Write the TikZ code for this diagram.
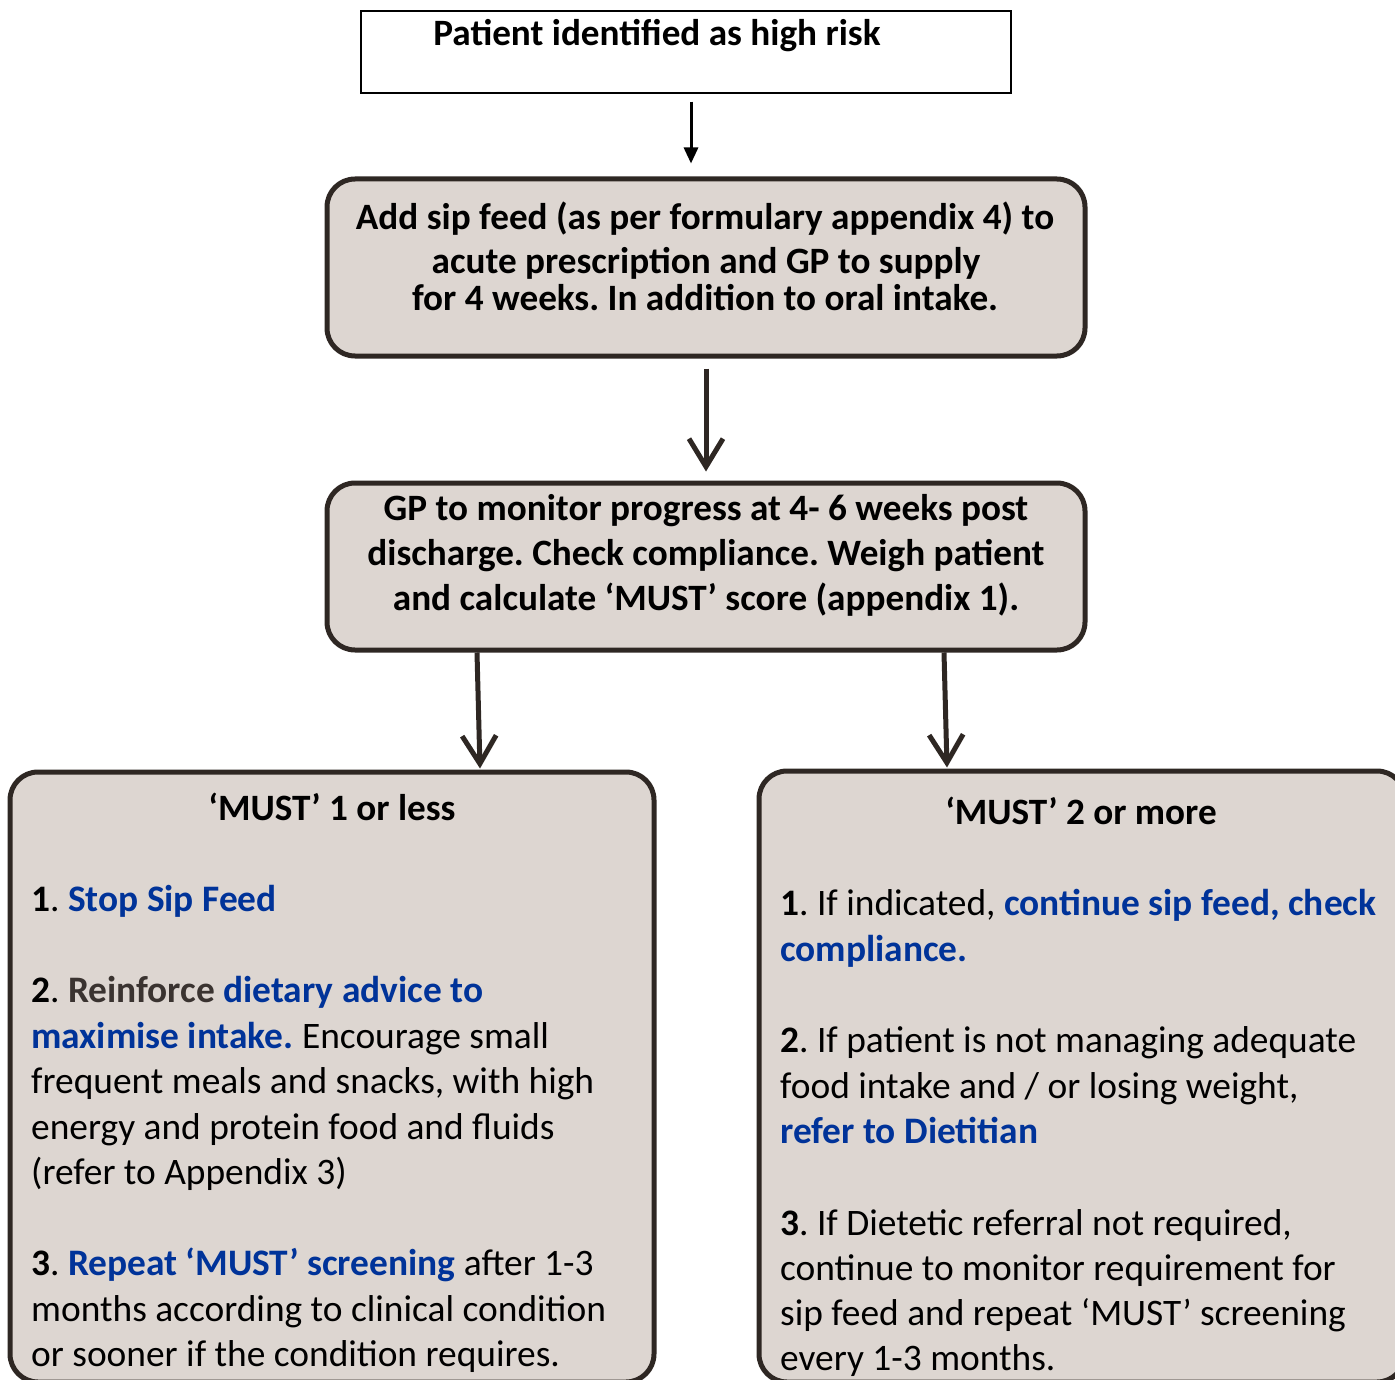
\documentclass[tikz,border=0pt]{standalone}
\usepackage{fontspec}
\setmainfont{Carlito}
\usetikzlibrary{arrows.meta,calc}
\definecolor{boxfill}{HTML}{DDD6D1}
\definecolor{boxline}{HTML}{2E2723}
\definecolor{blueT}{HTML}{003399}
\definecolor{reinT}{HTML}{3A3330}
\newcommand{\bl}[1]{{\color{blueT}\bfseries #1}}
\frenchspacing
\tikzset{
  plainbox/.style={draw=black, line width=1.2pt, fill=white, rectangle, inner sep=0pt},
  roundbox/.style={draw=boxline, line width=5pt, fill=boxfill, rectangle, rounded corners=28pt, inner sep=0pt},
  bodytxt/.style={anchor=base west, inner sep=0pt, font=\fontsize{37.4}{45}\selectfont},
  headtxt/.style={anchor=base, inner sep=0pt, font=\fontsize{37.2}{45}\selectfont\bfseries},
  thinarrow/.style={draw=black, line width=3pt, -{Triangle[length=16pt,width=14pt]}},
  thickarrow/.style={draw=boxline, line width=5pt, -{Straight Barb[length=28pt,width=34pt,line width=5pt]}}
}
\begin{document}
\begin{tikzpicture}[x=1pt,y=-1pt]
\useasboundingbox (0,0) rectangle (1395,1380);
\clip (0,0) rectangle (1395,1380);
% boxes
\node[plainbox, minimum width=650pt, minimum height=82pt] (b1) at (686,52) {};
\node[roundbox, minimum width=758pt, minimum height=177pt] (b2) at (706,267.5) {};
\node[roundbox, minimum width=758pt, minimum height=167pt] (b3) at (706,566.5) {};
\node[roundbox, minimum width=644pt, minimum height=610pt] (b4) at (332,1077) {};
\node[roundbox, minimum width=646pt, minimum height=611pt] (b5) at (1082,1076.5) {};
% box 1 text
\node[headtxt] (t1) at (657,46) {Patient identified as high risk};
% box 2 text
\node[headtxt] (t2a) at (705,230) {Add sip feed (as per formulary appendix 4) to};
\node[headtxt] (t2b) at (706,274) {acute prescription and GP to supply};
\node[headtxt] (t2c) at (705,311) {for 4 weeks. In addition to oral intake.};
% box 3 text
\node[headtxt] (t3a) at (706,520) {GP to monitor progress at 4- 6 weeks post};
\node[headtxt] (t3b) at (706,565) {discharge. Check compliance. Weigh patient};
\node[headtxt] (t3c) at (706,610) {and calculate ‘MUST’ score (appendix 1).};
% box 4 text
\node[headtxt] (t4h) at (332,820) {‘MUST’ 1 or less};
\node[bodytxt] (l1) at (31,911) {\textbf{1}. \bl{Stop Sip Feed}};
\node[bodytxt] (l2) at (31,1002.5) {\textbf{2}. {\color{reinT}\bfseries Reinforce} \bl{dietary advice to}};
\node[bodytxt] (l3) at (31,1048) {\bl{maximise intake.} Encourage small};
\node[bodytxt] (l4) at (31,1093.5) {frequent meals and snacks, with high};
\node[bodytxt] (l5) at (31,1139) {energy and protein food and fluids};
\node[bodytxt] (l6) at (31,1184) {(refer to Appendix 3)};
\node[bodytxt] (l7) at (31,1275) {\textbf{3}. \bl{Repeat ‘MUST’ screening} after 1-3};
\node[bodytxt] (l8) at (31,1321) {months according to clinical condition};
\node[bodytxt] (l9) at (31,1366) {or sooner if the condition requires.};
% box 5 text
\node[headtxt] (t5h) at (1081,824) {‘MUST’ 2 or more};
\node[bodytxt] (r1) at (780,915) {\textbf{1}. If indicated, \bl{continue sip feed, check}};
\node[bodytxt] (r2) at (780,961) {\bl{compliance.}};
\node[bodytxt] (r3) at (780,1052) {\textbf{2}. If patient is not managing adequate};
\node[bodytxt] (r4) at (780,1098) {food intake and / or losing weight,};
\node[bodytxt] (r5) at (780,1143) {\bl{refer to Dietitian}};
\node[bodytxt] (r6) at (780,1235) {\textbf{3}. If Dietetic referral not required,};
\node[bodytxt] (r7) at (780,1280) {continue to monitor requirement for};
\node[bodytxt] (r8) at (780,1325) {sip feed and repeat ‘MUST’ screening};
\node[bodytxt] (r9) at (780,1370) {every 1-3 months.};
% connectors
\draw[thinarrow] ([xshift=5pt,yshift=-8pt]b1.south) -- ([xshift=-15pt,yshift=13pt]b2.north);
\draw[thickarrow] ([yshift=-10pt]b2.south) -- ([yshift=9pt]b3.north);
\draw[thickarrow] ([xshift=-229pt]b3.south) -- ([xshift=148pt,yshift=1pt]b4.north);
\draw[thickarrow] ([xshift=238pt]b3.south) -- ([xshift=-135pt,yshift=1pt]b5.north);
\end{tikzpicture}
\end{document}
